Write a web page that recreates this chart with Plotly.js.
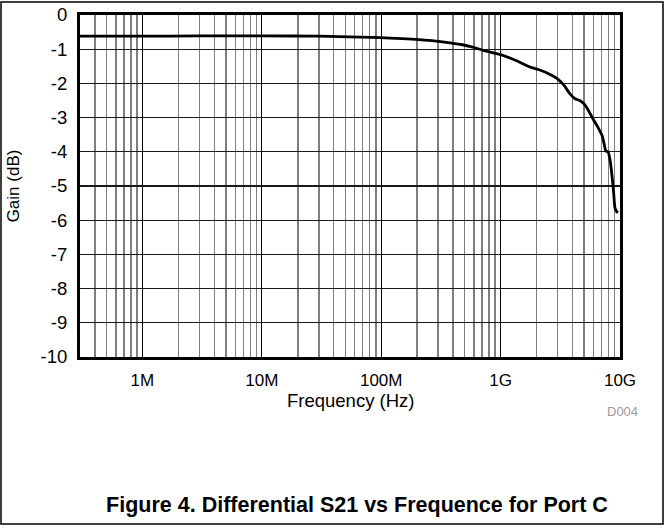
<!DOCTYPE html>
<html>
<head>
<meta charset="utf-8">
<script src="https://cdn.plot.ly/plotly-3.0.1.min.js"></script>
<style>
html,body{margin:0;padding:0;background:#fff;}
#chart{width:669px;height:529px;}
</style>
</head>
<body>
<div id="chart"></div>
<script>
// Frequency (Hz) and gain (dB)
var freqHz = [3e5, 1e6, 3e6, 1e7, 3e7, 1e8, 1.5e8, 2.5e8, 3.5e8, 4.8e8, 6e8, 7.1e8, 8.5e8, 1e9, 1.3e9, 1.76e9, 2.13e9, 2.6e9, 3.0e9, 3.4e9, 3.8e9, 4.2e9, 4.6e9, 5.0e9, 5.5e9, 5.94e9, 6.5e9, 7.07e9, 7.4e9, 7.6e9, 7.94e9, 8.3e9, 8.58e9, 8.85e9, 9.08e9, 9.35e9, 9.62e9];
var gainDb = [-0.62, -0.62, -0.61, -0.61, -0.62, -0.66, -0.69, -0.74, -0.8, -0.87, -0.95, -1.03, -1.1, -1.16, -1.31, -1.52, -1.61, -1.74, -1.87, -2.06, -2.3, -2.45, -2.5, -2.6, -2.82, -3.04, -3.27, -3.52, -3.8, -3.98, -4.0, -4.3, -4.72, -5.2, -5.65, -5.74, -5.78];

var xTickVals = [1e6, 1e7, 1e8, 1e9, 1e10];
var xTickText = ['1M', '10M', '100M', '1G', '10G'];
var yTickVals = [0, -1, -2, -3, -4, -5, -6, -7, -8, -9, -10];
var yTickText = ['0', '-1', '-2', '-3', '-4', '-5', '-6', '-7', '-8', '-9', '-10'];

var xTitle = 'Frequency (Hz)';
var yTitle = 'Gain (dB)';
var caption = 'Figure 4. Differential S21 vs Frequence for Port C';
var docId = 'D004';

// minor grid positions (2..9 of each decade) within the visible range
var minorVals = [];
for (var e = 5; e <= 9; e++) {
  for (var m = 2; m <= 9; m++) {
    var v = m * Math.pow(10, e);
    if (v > 3e5 && v < 1e10) minorVals.push(v);
  }
}

var FONT = 'Arial, "Liberation Sans", sans-serif';

var trace = {
  x: freqHz, y: gainDb, type: 'scatter', mode: 'lines',
  line: {color: '#000', width: 2.8, shape: 'spline', smoothing: 0.6},
  hoverinfo: 'skip'
};

var layout = {
  width: 669, height: 529,
  margin: {l: 80, r: 49, t: 15, b: 172},
  paper_bgcolor: '#fff', plot_bgcolor: '#fff',
  font: {family: FONT, size: 17, color: '#000'},
  showlegend: false,
  xaxis: {
    type: 'log',
    range: [Math.log10(3e5), 10],
    tickmode: 'array', tickvals: xTickVals, ticktext: xTickText,
    ticks: '', ticklabelstandoff: 6,
    showgrid: true, gridcolor: '#000', gridwidth: 1,
    minor: {tickmode: 'array', tickvals: minorVals, showgrid: true, gridcolor: '#7f7f7f', gridwidth: 1.5, ticks: ''},
    showline: true, linecolor: '#000', linewidth: 3, mirror: true,
    zeroline: false,
    tickfont: {family: FONT, size: 17}
  },
  yaxis: {
    range: [-10, 0],
    tickmode: 'array', tickvals: yTickVals, ticktext: yTickText,
    ticks: '', ticklabelstandoff: 6,
    showgrid: true, gridcolor: '#1a1a1a', gridwidth: 1.3,
    showline: true, linecolor: '#000', linewidth: 3, mirror: true,
    zeroline: false,
    tickfont: {family: FONT, size: 18.5},
    title: {text: yTitle, font: {family: FONT, size: 17}, standoff: 17}
  },
  title: {
    text: '<b>' + caption + '</b>',
    font: {family: FONT, size: 21.5, color: '#000'},
    xref: 'container', yref: 'container',
    x: 357 / 669, xanchor: 'center',
    y: 1 - 504 / 529, yanchor: 'middle'
  },
  annotations: [{
    text: xTitle, xref: 'paper', yref: 'paper',
    x: (350 - 80) / 540, y: (357 - 400) / 342,
    xanchor: 'center', yanchor: 'middle', showarrow: false,
    font: {family: FONT, size: 18.5, color: '#000'}
  }, {
    text: docId, xref: 'paper', yref: 'paper',
    x: (622 - 80) / 540, y: (357 - 411) / 342,
    xanchor: 'center', yanchor: 'middle', showarrow: false,
    font: {family: FONT, size: 13, color: '#9a9a9a'}
  }],
  shapes: [{
    type: 'rect', xref: 'paper', yref: 'paper',
    x0: (1 - 80) / 540, x1: (663 - 80) / 540,
    y0: (357 - 524) / 342, y1: (357 - 2) / 342,
    line: {color: '#000', width: 1.5}, fillcolor: 'rgba(0,0,0,0)', layer: 'below'
  }]
};

Plotly.newPlot('chart', [trace], layout, {staticPlot: true, displayModeBar: false});
</script>
</body>
</html>
